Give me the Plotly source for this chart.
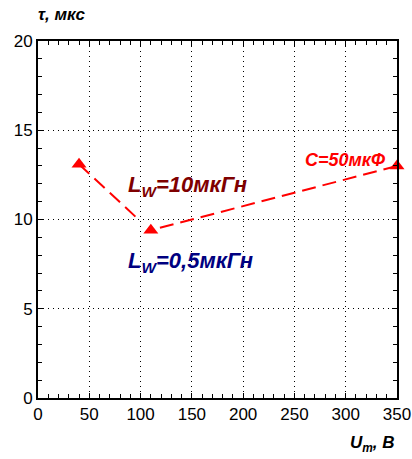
import plotly.graph_objects as go

# data
pts_x = [40, 110, 350]
pts_y = [13.1, 9.4, 13.0]
seg1_x = [40, 98]
seg1_y = [13.1, 10.0]
seg2_x = [350, 110]
seg2_y = [13.0, 9.4]
x_ticks = [0, 50, 100, 150, 200, 250, 300, 350]
y_ticks = [0, 5, 10, 15, 20]

fig = go.Figure()
for sx, sy in [(seg1_x, seg1_y), (seg2_x, seg2_y)]:
    fig.add_trace(go.Scatter(x=sx, y=sy, mode="lines",
                             line=dict(color="#ff0000", width=2, dash="14px,7px"),
                             showlegend=False, hoverinfo="skip"))
fig.add_trace(go.Scatter(x=pts_x, y=pts_y, mode="markers",
                         marker=dict(symbol="triangle-up", size=13, color="#ff0000"),
                         showlegend=False, cliponaxis=False))

fnt = "Liberation Sans, Arial"
axis_common = dict(showline=True, linecolor="black", linewidth=2, mirror="ticks",
                   ticks="inside", ticklen=5, tickcolor="black", tickwidth=1,
                   showgrid=True, gridcolor="black", gridwidth=1, griddash="1px,4px",
                   zeroline=False, automargin=False, ticklabeloverflow="allow",
                   tickfont=dict(family=fnt, size=17, color="black"))

fig.update_xaxes(range=[0, 350], tickvals=x_ticks,
                 minor=dict(dtick=10, ticks="inside", ticklen=4, tickcolor="black", showgrid=False),
                 **axis_common)
fig.update_yaxes(range=[0, 20], tickvals=y_ticks,
                 minor=dict(dtick=1, ticks="inside", ticklen=4, tickcolor="black", showgrid=False),
                 **axis_common)

fig.add_annotation(x=0.0, y=1.0, xref="paper", yref="paper", xanchor="left", yanchor="bottom",
                   yshift=15, xshift=-2, text="<b><i>τ, мкс</i></b>", showarrow=False,
                   font=dict(family=fnt, size=17, color="black"))
fig.add_annotation(x=1.0, y=0.0, xref="paper", yref="paper", xanchor="right", yanchor="top",
                   yshift=-33, xshift=0, text="<b><i>U<sub>m</sub>, В</i></b>", showarrow=False,
                   font=dict(family=fnt, size=17, color="black"))
fig.add_annotation(x=86, y=11.9, xref="x", yref="y", xanchor="left", yanchor="middle",
                   text="<b><i>L<sub>W</sub>=10мкГн</i></b>", showarrow=False,
                   font=dict(family=fnt, size=22, color="#7f0000"))
fig.add_annotation(x=86, y=7.6, xref="x", yref="y", xanchor="left", yanchor="middle",
                   text="<b><i>L<sub>W</sub>=0,5мкГн</i></b>", showarrow=False,
                   font=dict(family=fnt, size=22, color="#000080"))
fig.add_annotation(x=258, y=12.65, xref="x", yref="y", xanchor="left", yanchor="bottom",
                   text="<b><i>C=50мкФ</i></b>", showarrow=False,
                   font=dict(family=fnt, size=18, color="#ff0000"))

fig.update_layout(width=412, height=459, margin=dict(l=38, r=15, t=41, b=61),
                  plot_bgcolor="white", paper_bgcolor="white")
# remove the default page margin so the figure fills the 412x459 window exactly
fig.write_html("out.html", config={"displayModeBar": False},
               post_script="document.body.style.margin='0';document.body.style.overflow='hidden';")
